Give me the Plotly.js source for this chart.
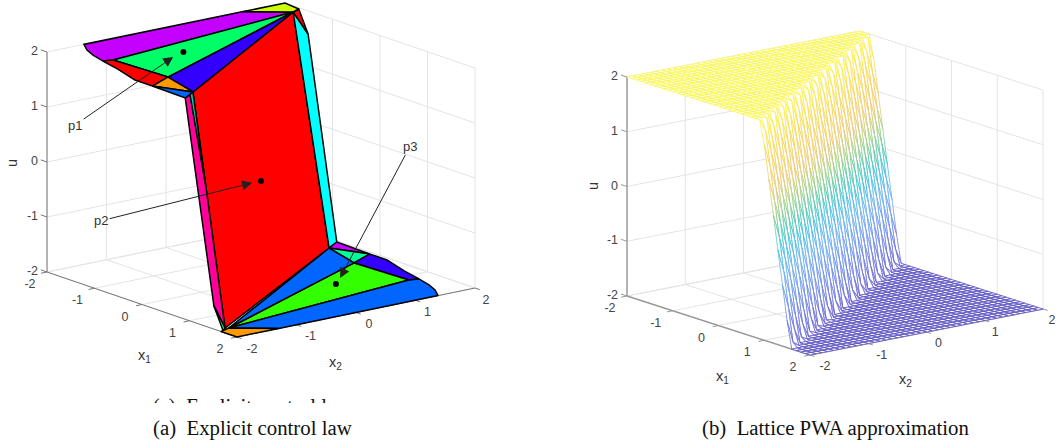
<!DOCTYPE html>
<html><head><meta charset="utf-8">
<script src="https://cdn.plot.ly/plotly-3.0.1.min.js"></script>
<style>html,body{margin:0;padding:0;background:#fff}#c{width:1056px;height:444px}</style>
</head><body><div id="c"></div>
<script>
// ---------- left panel: explicit control law regions [x1,x2,u] ----------
const purpleTop=[[-2,1.3,2],[-1.59,1.81,2],[-1.17,-1.55,2],[-1.21,-1.69,2],[-1.52,-1.61,2],[-1.76,-1.52,2],[-2,-1.38,2]];
const yellowTop=[[-2,1.3,2],[-2,2,2],[-1.66,1.96,2],[-1.59,1.81,2]];
const greenTop=[[-1.17,-1.55,2],[-1.59,1.81,2],[-0.08,-1.5,2]];
const indigoTop=[[-0.08,-1.5,2],[-1.59,1.81,2],[0.69,-1.695,2]];
const redTop=[[-1.21,-1.69,2],[-1.17,-1.55,2],[-0.08,-1.5,2],[0.14,-1.94,2],[-0.23,-1.935,2],[-0.785,-1.78,2]];
const orangeTop=[[0.14,-1.94,2],[-0.08,-1.5,2],[0.69,-1.695,2]];
const azureTop=[[0.14,-1.94,2],[0.69,-1.695,2],[0.86,-1.96,2],[0.51,-1.94,2]];
const redWall=[[0.69,-1.695,2],[-1.59,1.81,2],[-0.69,1.695,-2],[1.56,-1.85,-2]];
const magentaStrip=[[0.86,-1.96,2],[0.76,-1.8,2],[1.04,-1.757,0.4],[1.56,-1.85,-2],[1.47,-1.965,-1.6]];
const tealSliver=[[0.76,-1.8,2],[0.69,-1.695,2],[1.04,-1.757,0.4]];
const greenSliver=[[1.47,-1.965,-1.6],[1.56,-1.85,-2],[1.66,-1.96,-2]];
const cyanStrip=[[-0.86,1.96,-2],[-0.69,1.695,-2],[-1.59,1.81,2],[-1.47,1.965,1.6]];
const redSliver=[[-1.47,1.965,1.6],[-1.59,1.81,2],[-1.66,1.96,2]];
const purpleLow=[[-0.86,1.96,-2],[-0.51,1.94,-2],[-0.14,1.94,-2],[-0.69,1.695,-2]];
const foamLow=[[-0.69,1.695,-2],[-0.14,1.94,-2],[0.08,1.5,-2]];
const indigoLow=[[1.21,1.69,-2],[1.17,1.55,-2],[0.08,1.5,-2],[-0.14,1.94,-2],[0.23,1.935,-2],[0.785,1.78,-2]];
const greenLow=[[1.17,1.55,-2],[1.59,-1.81,-2],[0.08,1.5,-2]];
const blueLow=[[0.08,1.5,-2],[1.59,-1.81,-2],[-0.69,1.695,-2]];
const azureLow=[[2,1.38,-2],[2,-1.3,-2],[1.59,-1.81,-2],[1.17,1.55,-2],[1.21,1.69,-2],[1.52,1.61,-2],[1.76,1.52,-2]];
const orangeLow=[[2,-1.3,-2],[2,-2,-2],[1.66,-2,-2],[1.59,-1.81,-2]];
const regions=[
 [redWall,'#ff0000'],[magentaStrip,'#ff0099'],[tealSliver,'#00ccbb'],[greenSliver,'#00ff66'],[cyanStrip,'#00ffff'],[redSliver,'#ff0000'],
 [purpleTop,'#c400ff'],[yellowTop,'#ccff00'],[greenTop,'#00ff66'],[indigoTop,'#3300ff'],[redTop,'#ff0000'],
 [orangeTop,'#ff9900'],[azureTop,'#0066ff'],[purpleLow,'#c400ff'],[foamLow,'#00ff99'],
 [indigoLow,'#3300ff'],[greenLow,'#33ff00'],[blueLow,'#0066ff'],[azureLow,'#0066ff'],[orangeLow,'#ff9900']];
const dotsX1=[-0.92,0,0.75], dotsX2=[-0.57,0,0.66], dotsU=[2,-0.2,-2];
const arrowTips=[[-0.81,-0.83,2,'p1',-98,68],[0,-0.15,-0.2,'p2',-151,38],[0.55,0.89,-2,'p3',70,-132]];

// ---------- right panel: lattice PWA mesh, grid step 0.1 ----------
const gridVals=[-2,-1.9,-1.8,-1.7,-1.6,-1.5,-1.4,-1.3,-1.2,-1.1,-1,-0.9,-0.8,-0.7,-0.6,-0.5,-0.4,-0.3,-0.2,-0.1,0,0.1,0.2,0.3,0.4,0.5,0.6,0.7,0.8,0.9,1,1.1,1.2,1.3,1.4,1.5,1.6,1.7,1.8,1.9,2];
// per x2 row: index of the first x1 sample below the u=2 plateau, then the u values down the wall (u=-2 after them)
const wallStart=[30,29,28,28,27,26,26,25,24,24,23,22,22,21,20,20,19,18,18,17,16,16,15,14,14,13,12,12,11,10,10,9,8,8,7,6,6,5,4,3,3];
const wallSteps=[
 [1.57,.96,.34,-.28,-.89,-1.51],[1.77,1.16,.54,-.08,-.69,-1.31,-1.92],[1.97,1.36,.74,.13,-.49,-1.11,-1.72],
 [1.55,.94,.32,-.30,-.91,-1.53],[1.75,1.14,.52,-.10,-.71,-1.33,-1.94],[1.95,1.34,.72,.11,-.51,-1.13,-1.74],
 [1.54,.93,.31,-.31,-.92,-1.54],[1.74,1.13,.51,-.11,-.72,-1.34,-1.95],[1.94,1.33,.71,.10,-.52,-1.14,-1.75],
 [1.52,.91,.29,-.33,-.94,-1.56],[1.72,1.11,.49,-.13,-.74,-1.36,-1.97],[1.92,1.31,.69,.08,-.54,-1.16,-1.77],
 [1.51,.90,.28,-.34,-.95,-1.57],[1.71,1.10,.48,-.14,-.75,-1.37,-1.98],[1.91,1.30,.68,.07,-.55,-1.17,-1.78],
 [1.49,.88,.26,-.36,-.97,-1.59],[1.69,1.08,.46,-.16,-.77,-1.39],[1.89,1.28,.66,.05,-.57,-1.19,-1.80],
 [1.48,.87,.25,-.37,-.98,-1.60],[1.68,1.07,.45,-.17,-.78,-1.40],[1.88,1.27,.65,.04,-.58,-1.20,-1.81],
 [1.46,.85,.23,-.39,-1,-1.62],[1.66,1.05,.43,-.19,-.80,-1.42],[1.86,1.25,.63,.02,-.60,-1.22,-1.83],
 [1.45,.84,.22,-.40,-1.01,-1.63],[1.65,1.04,.42,-.20,-.81,-1.43],[1.85,1.24,.62,.01,-.61,-1.23,-1.84],
 [1.43,.82,.20,-.42,-1.03,-1.65],[1.63,1.02,.40,-.22,-.83,-1.45],[1.83,1.22,.60,-.02,-.63,-1.25,-1.86],
 [1.42,.81,.19,-.43,-1.04,-1.66],[1.62,1.01,.39,-.23,-.84,-1.46],[1.82,1.21,.59,-.03,-.64,-1.26,-1.87],
 [1.40,.79,.17,-.45,-1.06,-1.68],[1.60,.99,.37,-.25,-.86,-1.48],[1.80,1.19,.57,-.05,-.66,-1.28,-1.89],
 [1.39,.78,.16,-.46,-1.07,-1.69],[1.58,.97,.35,-.27,-.88,-1.50],[1.78,1.17,.55,-.07,-.68,-1.30,-1.91],
 [1.98,1.37,.75,.14,-.48,-1.10,-1.71],[1.57,.96,.34,-.28,-.89,-1.51]];
const meshColors=[[0,'#6a5fd0'],[0.2,'#6a8ff0'],[0.325,'#6ab0f0'],[0.425,'#40c0e0'],[0.5,'#50c8b0'],[0.6,'#a5d080'],[0.7,'#f0c870'],[0.85,'#f8d850'],[1,'#fdf550']];
const tickVals=[-2,-1,0,1,2];

// ---------- view set-up (oblique projection of each panel onto its axes) ----------
const viewA={ox:47,oy:272,e1x:47.5,e1y:16.25,e2x:59.5,e2y:-12.25,uy:55,xa:'x',ya:'y',
  x1Off:[-17,13],x2OffX:[15,14,13,12,11],x2OffY:12.5,zLab:-9,uTitle:[12,163],x1Title:[144,356],x2Title:[335,363],axisColor:'#777',axisW:1};
const viewB={ox:627,oy:296,e1x:45.75,e1y:14.75,e2x:58.25,e2y:-11.5,uy:54.75,xa:'x2',ya:'y2',
  x1Off:[-17,13],x2OffX:[15,13.5,12,10.5,9],x2OffY:12,zLab:-9,uTitle:[593,186],x1Title:[722,377],x2Title:[905,380],axisColor:'#999',axisW:1.4};
function proj(v,a,b,u){return [v.ox+(a+2)*v.e1x+(b+2)*v.e2x, v.oy+(a+2)*v.e1y+(b+2)*v.e2y-(u+2)*v.uy];}
function tr(v,o){return Object.assign({type:'scatter',xaxis:v.xa,yaxis:v.ya,hoverinfo:'skip',showlegend:false,cliponaxis:false},o);}
function pline(v,pts,color,width){const p=pts.map(q=>proj(v,q[0],q[1],q[2]));
  return tr(v,{mode:'lines',x:p.map(q=>q[0]),y:p.map(q=>q[1]),line:{color:color,width:width}});}

function axesFrame(v){
  const out=[], g='#e4e4e4';
  tickVals.forEach(t=>{
    out.push(pline(v,[[-2,t,-2],[-2,t,2]],g,1));
    out.push(pline(v,[[-2,-2,t],[-2,2,t]],g,1));
    out.push(pline(v,[[t,2,-2],[t,2,2]],g,1));
    out.push(pline(v,[[-2,2,t],[2,2,t]],g,1));
    out.push(pline(v,[[t,-2,-2],[t,2,-2]],g,1));
    out.push(pline(v,[[-2,t,-2],[2,t,-2]],g,1));
  });
  out.push(pline(v,[[-2,-2,-2],[-2,-2,2]],v.axisColor,v.axisW));
  out.push(pline(v,[[-2,-2,-2],[2,-2,-2]],v.axisColor,v.axisW));
  out.push(pline(v,[[2,-2,-2],[2,2,-2]],v.axisColor,v.axisW));
  tickVals.forEach(t=>{
    out.push(pline(v,[[-2,-2,t],[-2.13,-2,t]],v.axisColor,1));
    out.push(pline(v,[[t,-2,-2],[t,-2.1,-2]],v.axisColor,1));
    out.push(pline(v,[[2,t,-2],[2.1,t,-2]],v.axisColor,1));
  });
  const font={family:'Liberation Sans, Arial',size:12.5,color:'#444'};
  const zp=tickVals.map(t=>proj(v,-2,-2,t));
  out.push(tr(v,{mode:'text',x:zp.map(p=>p[0]+v.zLab),y:zp.map(p=>p[1]),text:tickVals.map(String),textposition:'middle left',textfont:font}));
  const ap=tickVals.map(t=>proj(v,t,-2,-2));
  out.push(tr(v,{mode:'text',x:ap.map(p=>p[0]+v.x1Off[0]),y:ap.map(p=>p[1]+v.x1Off[1]),text:tickVals.map(String),textposition:'middle center',textfont:font}));
  const bp=tickVals.map(t=>proj(v,2,t,-2));
  out.push(tr(v,{mode:'text',x:bp.map((p,i)=>p[0]+v.x2OffX[i]),y:bp.map(p=>p[1]+v.x2OffY),text:tickVals.map(String),textposition:'middle center',textfont:font}));
  return out;
}
function axisTitles(v){
  const f={family:'Liberation Sans, Arial',size:14.5,color:'#333'};
  const base={xref:v.xa,yref:v.ya,showarrow:false,font:f,xanchor:'center',yanchor:'middle'};
  return [Object.assign({},base,{x:v.uTitle[0],y:v.uTitle[1],text:'u',textangle:-90}),
          Object.assign({},base,{x:v.x1Title[0],y:v.x1Title[1],text:'x<sub>1</sub>'}),
          Object.assign({},base,{x:v.x2Title[0],y:v.x2Title[1],text:'x<sub>2</sub>'})];
}

const traces=[];
axesFrame(viewA).forEach(t=>traces.push(t));
regions.forEach(([poly,color])=>{
  const p=poly.concat([poly[0]]).map(q=>proj(viewA,q[0],q[1],q[2]));
  traces.push(tr(viewA,{mode:'lines',x:p.map(q=>q[0]),y:p.map(q=>q[1]),fill:'toself',fillcolor:color,line:{color:'#000',width:1.5}}));
});
const dotP=dotsX1.map((a,i)=>proj(viewA,a,dotsX2[i],dotsU[i]));
traces.push(tr(viewA,{mode:'markers',x:dotP.map(p=>p[0]),y:dotP.map(p=>p[1]),marker:{color:'#000',size:6}}));

axesFrame(viewB).forEach(t=>traces.push(t));
const rows=wallStart.map((s,j)=>gridVals.map((_,i)=>{
  if(i<s) return 2;
  const k=i-s; return k<wallSteps[j].length?wallSteps[j][k]:-2;
}));
const topX=[],topY=[],lowX=[],lowY=[],wall=[];
for(let j=gridVals.length-2;j>=0;j--){
  for(let i=0;i<gridVals.length-1;i++){
    const c=[[i,j],[i+1,j],[i+1,j+1],[i,j+1],[i,j]].map(([a,b])=>[gridVals[a],gridVals[b],rows[b][a]]);
    const us=c.map(q=>q[2]);
    if(us.every(u=>u===2)||us.every(u=>u===-2)){
      const X=us[0]===2?topX:lowX,Y=us[0]===2?topY:lowY;
      c.forEach(q=>{const p=proj(viewB,q[0],q[1],q[2]);X.push(p[0]);Y.push(p[1]);});
      X.push(null);Y.push(null);
    }else{
      const X=[],Y=[],C=[];
      for(let e=0;e<4;e++){
        const P=proj(viewB,...c[e]),Q=proj(viewB,...c[e+1]);
        const n=Math.max(2,Math.ceil(Math.hypot(P[0]-Q[0],P[1]-Q[1])/0.9));
        for(let s=0;s<n;s++){const f=s/n;X.push(P[0]+(Q[0]-P[0])*f);Y.push(P[1]+(Q[1]-P[1])*f);C.push(c[e][2]+(c[e+1][2]-c[e][2])*f);}
      }
      wall.push(tr(viewB,{mode:'markers',x:X,y:Y,fill:'toself',fillcolor:'#fff',
        marker:{size:1,color:C,colorscale:meshColors,cmin:-2,cmax:2,showscale:false,line:{width:0}}}));
    }
  }
}
traces.push(tr(viewB,{mode:'lines',x:topX,y:topY,fill:'toself',fillcolor:'#fff',line:{color:'#fbf65a',width:0.8}}));
wall.forEach(t=>traces.push(t));
traces.push(tr(viewB,{mode:'lines',x:lowX,y:lowY,fill:'toself',fillcolor:'#fff',line:{color:'#5f58c4',width:0.8}}));

const capFont={family:'Liberation Serif, Times New Roman',size:20.8,color:'#111'};
// the clipped caption line above the real caption sits on its own axes, ending at y=403
traces.push({type:'scatter',xaxis:'x3',yaxis:'y3',mode:'text',x:[252],y:[408],text:['(a)  Explicit control law'],textposition:'middle center',textfont:capFont,cliponaxis:true,showlegend:false,hoverinfo:'skip'});

const anns=arrowTips.map(t=>{const p=proj(viewA,t[0],t[1],t[2]);return {xref:'x',yref:'y',x:p[0],y:p[1],text:t[3],ax:t[4],ay:t[5],showarrow:true,arrowhead:2,arrowsize:2,arrowwidth:1,arrowcolor:'#222',
  font:{family:'Liberation Sans, Arial',size:13,color:'#333'}};});
const cap=(x,y,t)=>({xref:'paper',yref:'paper',x:x/1056,y:1-y/444,text:t,showarrow:false,font:capFont,xanchor:'center',yanchor:'middle'});
const hidden=()=>({visible:false,fixedrange:true});
const layout={width:1056,height:444,margin:{l:0,r:0,t:0,b:0,pad:0},paper_bgcolor:'#fff',plot_bgcolor:'rgba(0,0,0,0)',showlegend:false,
 xaxis:Object.assign(hidden(),{domain:[0,0.5],range:[0,528]}),yaxis:Object.assign(hidden(),{domain:[0,1],range:[444,0]}),
 xaxis2:Object.assign(hidden(),{domain:[0.5,1],range:[528,1056]}),yaxis2:Object.assign(hidden(),{domain:[0,1],range:[444,0]}),
 xaxis3:Object.assign(hidden(),{domain:[0,0.5],range:[0,528]}),yaxis3:Object.assign(hidden(),{domain:[41/444,1],range:[403,0]}),
 annotations:anns.concat(axisTitles(viewA),axisTitles(viewB),[
  cap(252,428,'(a)  Explicit control law'),
  cap(835,428,'(b)  Lattice PWA approximation')])};
Plotly.newPlot('c',traces,layout,{displayModeBar:false,staticPlot:true});
</script></body></html>
